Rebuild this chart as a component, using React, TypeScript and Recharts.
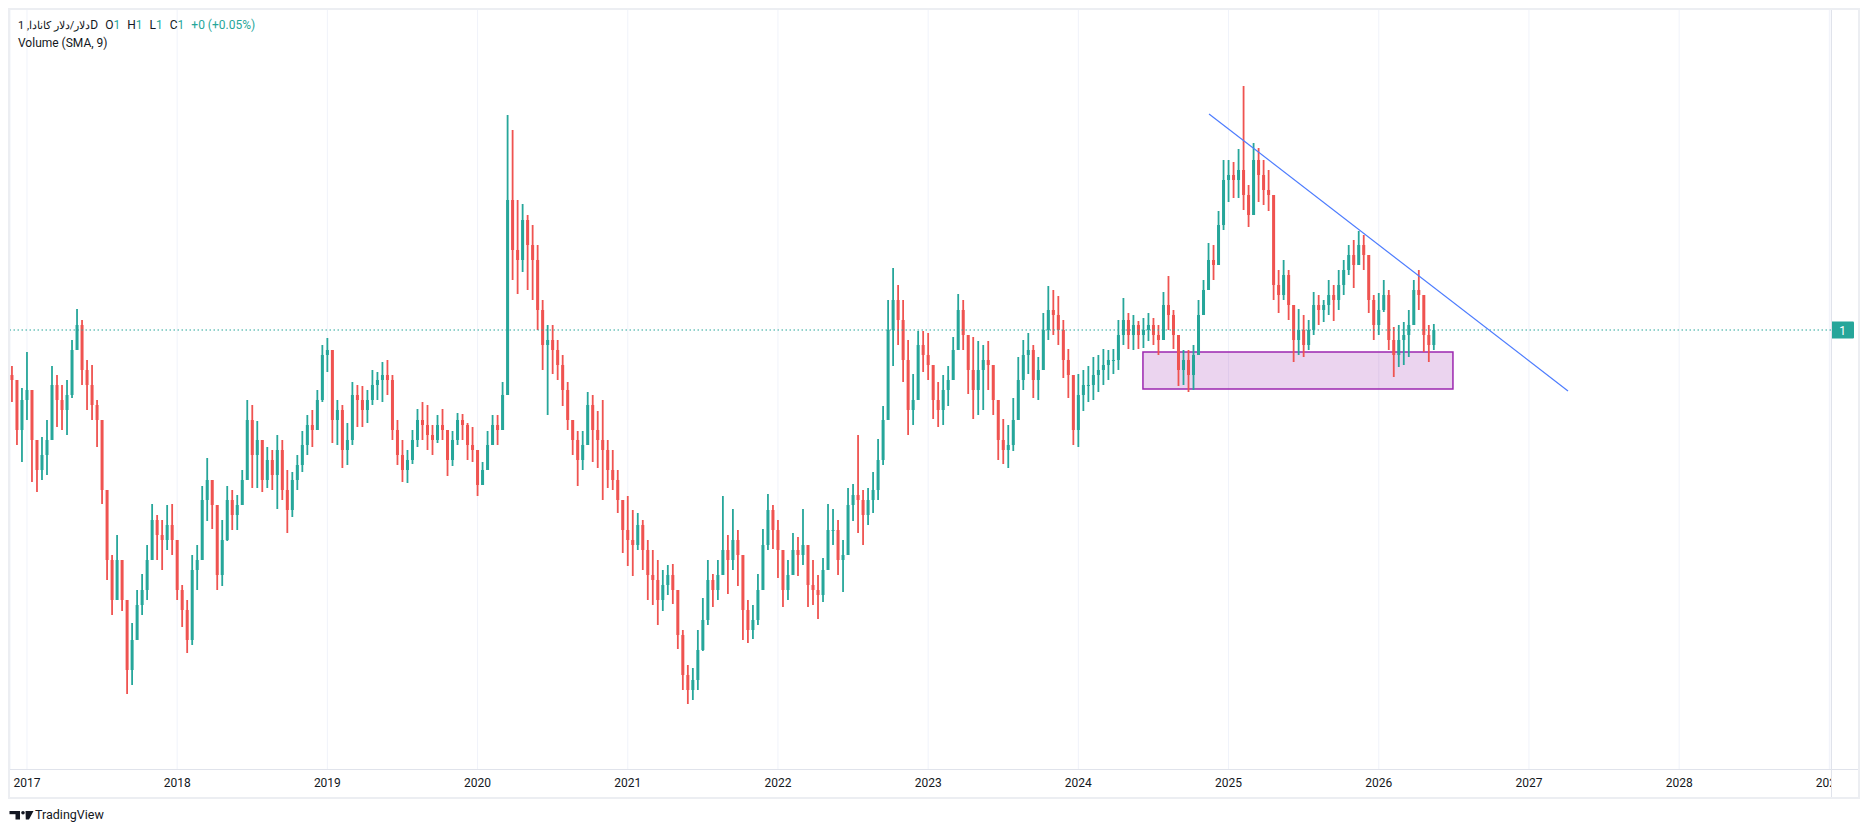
import React from 'react';
import { ComposedChart, Bar, XAxis, YAxis, CartesianGrid, ReferenceLine, ReferenceArea } from 'recharts';

const UP = '#26a69a';
const DOWN = '#ef5350';
const TEXT = '#131722';
const SEPARATOR = '#e0e3eb';

// one candle every ~12 days, the first one at the end of Nov 2016
const FIRST_BAR = 2016.9;
const BARS_PER_YEAR = 30;
const FIRST_OPEN = 0.955;

const HIGH = [
  0.964, 0.950, 0.942, 0.978, 0.930, 0.890, 0.893, 0.910, 0.964, 0.955,
  0.945, 0.950, 0.990, 1.021, 1.010, 0.970, 0.965, 0.930, 0.910, 0.830,
  0.775, 0.795, 0.768, 0.730, 0.707, 0.740, 0.756, 0.785, 0.826, 0.815,
  0.810, 0.825, 0.826, 0.780, 0.745, 0.730, 0.775, 0.785, 0.844, 0.872,
  0.850, 0.820, 0.810, 0.844, 0.840, 0.835, 0.860, 0.930, 0.925, 0.909,
  0.890, 0.883, 0.880, 0.895, 0.890, 0.860, 0.858, 0.875, 0.899, 0.915,
  0.920, 0.940, 0.985, 0.992, 0.980, 0.930, 0.925, 0.907, 0.948, 0.945,
  0.944, 0.940, 0.960, 0.958, 0.968, 0.970, 0.955, 0.910, 0.890, 0.880,
  0.900, 0.921, 0.928, 0.925, 0.905, 0.915, 0.921, 0.900, 0.899, 0.917,
  0.916, 0.907, 0.903, 0.880, 0.868, 0.899, 0.915, 0.915, 0.948, 1.215,
  1.200, 1.130, 1.126, 1.115, 1.105, 1.085, 1.030, 1.005, 1.005, 0.990,
  0.975, 0.948, 0.905, 0.899, 0.899, 0.938, 0.935, 0.919, 0.930, 0.890,
  0.880, 0.860, 0.825, 0.834, 0.820, 0.817, 0.810, 0.790, 0.780, 0.770,
  0.760, 0.765, 0.766, 0.740, 0.700, 0.665, 0.662, 0.700, 0.732, 0.770,
  0.756, 0.770, 0.834, 0.795, 0.821, 0.800, 0.770, 0.730, 0.725, 0.756,
  0.801, 0.836, 0.825, 0.810, 0.775, 0.770, 0.797, 0.793, 0.821, 0.785,
  0.770, 0.755, 0.772, 0.826, 0.821, 0.810, 0.790, 0.842, 0.846, 0.895,
  0.840, 0.842, 0.858, 0.891, 0.924, 1.030, 1.062, 1.045, 1.030, 0.990,
  0.956, 0.999, 0.999, 0.997, 0.960, 0.948, 0.955, 0.964, 0.993, 1.036,
  1.030, 0.990, 0.993, 0.989, 0.985, 0.989, 0.960, 0.930, 0.911, 0.905,
  0.932, 0.973, 0.990, 0.997, 0.985, 0.973, 1.017, 1.044, 1.040, 1.034,
  1.010, 0.981, 0.950, 0.956, 0.960, 0.964, 0.973, 0.975, 0.981, 0.980,
  0.981, 1.010, 1.032, 1.017, 1.015, 1.009, 1.012, 1.017, 1.012, 1.005,
  1.038, 1.054, 1.020, 0.995, 0.980, 0.980, 0.985, 1.030, 1.050, 1.087,
  1.085, 1.119, 1.170, 1.170, 1.168, 1.181, 1.244, 1.145, 1.187, 1.182,
  1.170, 1.160, 1.135, 1.060, 1.070, 1.060, 1.025, 1.021, 1.015, 1.010,
  1.038, 1.035, 1.030, 1.050, 1.045, 1.060, 1.070, 1.085, 1.090, 1.099,
  1.095, 1.065, 1.035, 1.037, 1.050, 1.040, 1.003, 1.005, 1.008, 1.020,
  1.050, 1.060, 1.035, 1.005, 1.006,
];

const LOW = [
  0.928, 0.885, 0.868, 0.910, 0.848, 0.838, 0.850, 0.855, 0.910, 0.903,
  0.900, 0.895, 0.932, 0.981, 0.945, 0.920, 0.910, 0.883, 0.826, 0.750,
  0.715, 0.740, 0.719, 0.636, 0.645, 0.690, 0.715, 0.730, 0.770, 0.770,
  0.760, 0.780, 0.775, 0.730, 0.703, 0.677, 0.685, 0.740, 0.770, 0.809,
  0.801, 0.740, 0.744, 0.789, 0.800, 0.800, 0.825, 0.855, 0.842, 0.842,
  0.838, 0.842, 0.840, 0.821, 0.830, 0.797, 0.813, 0.840, 0.858, 0.875,
  0.883, 0.900, 0.928, 0.958, 0.887, 0.885, 0.862, 0.865, 0.885, 0.903,
  0.903, 0.907, 0.925, 0.930, 0.928, 0.935, 0.890, 0.865, 0.848, 0.847,
  0.866, 0.883, 0.890, 0.880, 0.875, 0.887, 0.890, 0.854, 0.864, 0.885,
  0.890, 0.870, 0.868, 0.834, 0.845, 0.860, 0.885, 0.885, 0.900, 0.935,
  1.050, 1.036, 1.058, 1.040, 1.030, 1.000, 0.960, 0.915, 0.956, 0.950,
  0.924, 0.900, 0.875, 0.844, 0.860, 0.890, 0.868, 0.862, 0.830, 0.842,
  0.840, 0.817, 0.777, 0.764, 0.754, 0.780, 0.760, 0.730, 0.725, 0.705,
  0.719, 0.735, 0.726, 0.681, 0.640, 0.626, 0.630, 0.640, 0.679, 0.705,
  0.723, 0.730, 0.755, 0.736, 0.760, 0.744, 0.690, 0.687, 0.691, 0.705,
  0.750, 0.780, 0.781, 0.752, 0.723, 0.730, 0.755, 0.754, 0.765, 0.723,
  0.725, 0.711, 0.728, 0.760, 0.785, 0.755, 0.738, 0.775, 0.809, 0.797,
  0.785, 0.805, 0.817, 0.830, 0.865, 0.910, 0.964, 0.985, 0.948, 0.895,
  0.905, 0.940, 0.958, 0.950, 0.911, 0.903, 0.905, 0.924, 0.950, 0.985,
  0.980, 0.936, 0.911, 0.915, 0.920, 0.940, 0.915, 0.870, 0.866, 0.862,
  0.879, 0.920, 0.940, 0.956, 0.932, 0.930, 0.960, 0.990, 0.995, 0.985,
  0.952, 0.932, 0.885, 0.883, 0.919, 0.928, 0.930, 0.938, 0.945, 0.950,
  0.956, 0.960, 0.985, 0.981, 0.980, 0.981, 0.982, 0.989, 0.985, 0.975,
  0.995, 1.000, 0.981, 0.944, 0.945, 0.938, 0.940, 0.985, 1.020, 1.040,
  1.050, 1.065, 1.100, 1.128, 1.132, 1.132, 1.120, 1.103, 1.115, 1.128,
  1.125, 1.119, 1.030, 1.017, 1.030, 1.010, 0.968, 0.975, 0.973, 0.980,
  0.995, 1.005, 1.008, 1.015, 1.009, 1.020, 1.035, 1.055, 1.042, 1.065,
  1.060, 1.017, 0.990, 0.995, 1.018, 0.980, 0.953, 0.963, 0.965, 0.973,
  1.010, 1.020, 0.978, 0.968, 0.980,
];

const CLOSE = [
  0.950, 0.900, 0.930, 0.940, 0.890, 0.860, 0.875, 0.890, 0.945, 0.930,
  0.920, 0.935, 0.980, 1.005, 0.960, 0.945, 0.925, 0.910, 0.840, 0.770,
  0.730, 0.770, 0.730, 0.660, 0.690, 0.725, 0.740, 0.770, 0.810, 0.795,
  0.790, 0.805, 0.790, 0.740, 0.720, 0.690, 0.760, 0.770, 0.830, 0.850,
  0.825, 0.755, 0.790, 0.830, 0.815, 0.825, 0.850, 0.910, 0.875, 0.890,
  0.850, 0.870, 0.855, 0.880, 0.840, 0.820, 0.850, 0.865, 0.885, 0.905,
  0.900, 0.930, 0.975, 0.980, 0.910, 0.920, 0.880, 0.890, 0.935, 0.930,
  0.920, 0.930, 0.945, 0.950, 0.955, 0.950, 0.900, 0.875, 0.860, 0.870,
  0.890, 0.910, 0.905, 0.895, 0.890, 0.905, 0.900, 0.870, 0.890, 0.910,
  0.905, 0.885, 0.880, 0.845, 0.860, 0.885, 0.905, 0.900, 0.935, 1.130,
  1.080, 1.070, 1.110, 1.085, 1.070, 1.020, 0.985, 0.990, 0.980, 0.965,
  0.940, 0.910, 0.890, 0.870, 0.885, 0.925, 0.900, 0.890, 0.880, 0.860,
  0.850, 0.830, 0.800, 0.790, 0.785, 0.805, 0.780, 0.755, 0.750, 0.730,
  0.745, 0.755, 0.740, 0.695, 0.655, 0.640, 0.650, 0.680, 0.710, 0.750,
  0.740, 0.755, 0.780, 0.770, 0.790, 0.775, 0.720, 0.700, 0.710, 0.740,
  0.785, 0.820, 0.800, 0.780, 0.740, 0.755, 0.780, 0.775, 0.785, 0.745,
  0.740, 0.735, 0.760, 0.800, 0.800, 0.770, 0.775, 0.825, 0.835, 0.830,
  0.815, 0.830, 0.840, 0.870, 0.910, 1.000, 1.030, 1.010, 0.970, 0.920,
  0.930, 0.985, 0.975, 0.965, 0.930, 0.920, 0.940, 0.950, 0.980, 1.020,
  0.995, 0.960, 0.940, 0.960, 0.970, 0.965, 0.930, 0.890, 0.880, 0.885,
  0.910, 0.950, 0.975, 0.980, 0.950, 0.960, 1.000, 1.020, 1.015, 1.000,
  0.970, 0.955, 0.900, 0.935, 0.945, 0.945, 0.955, 0.960, 0.965, 0.970,
  0.970, 0.995, 1.010, 0.995, 1.005, 0.995, 1.000, 1.005, 0.995, 0.990,
  1.025, 1.015, 0.995, 0.960, 0.970, 0.955, 0.975, 1.015, 1.040, 1.070,
  1.065, 1.105, 1.150, 1.155, 1.150, 1.160, 1.135, 1.115, 1.170, 1.155,
  1.140, 1.135, 1.045, 1.035, 1.055, 1.025, 0.990, 1.000, 0.985, 1.000,
  1.025, 1.020, 1.025, 1.035, 1.030, 1.045, 1.060, 1.075, 1.065, 1.085,
  1.075, 1.030, 1.005, 1.020, 1.035, 0.990, 0.975, 0.990, 0.995, 1.005,
  1.040, 1.035, 0.995, 0.985, 1.000,
];

const YEARS = [2017, 2018, 2019, 2020, 2021, 2022, 2023, 2024, 2025, 2026, 2027, 2028, 2029];
const LAST_PRICE = 1;

// drawings on the chart: support box and the falling trend line
const BOX = { from: 2024.43, to: 2026.494, top: 0.978, bottom: 0.941 };
const TREND = [
  { x: 2024.87, y: 1.216 },
  { x: 2027.26, y: 0.939 },
];

const X_DOMAIN = [2016.887, 2029.011];
const Y_DOMAIN = [0.561, 1.32];

const candles = CLOSE.map((cl, i) => {
  const op = i === 0 ? FIRST_OPEN : CLOSE[i - 1];
  return {
    t: FIRST_BAR + i / BARS_PER_YEAR,
    op,
    cl,
    hi: Math.max(HIGH[i], op, cl),
    lo: Math.min(LOW[i], op, cl),
  };
});

const Candle = (props: any) => {
  const { x, y, width, height, payload } = props;
  if (!payload || height == null) return null;
  const top = Math.min(y, y + height);
  const h = Math.abs(height);
  const span = payload.hi - payload.lo || 1;
  const at = (v: number) => top + ((payload.hi - v) / span) * h;
  const color = payload.cl >= payload.op ? UP : DOWN;
  const mid = x + width / 2;
  const b1 = at(Math.max(payload.op, payload.cl));
  const b2 = at(Math.min(payload.op, payload.cl));
  return (
    <g>
      <line x1={mid} x2={mid} y1={top} y2={top + h} stroke={color} strokeWidth={1.8} />
      <rect x={x} y={b1} width={width} height={Math.max(1, b2 - b1)} fill={color} />
    </g>
  );
};

const YearTick = ({ x, y, payload }: any) => {
  const id = `clip-${payload.value}`;
  return (
    <g>
      <defs>
        <clipPath id={id}>
          <rect x={10} y={y} width={1821} height={28} />
        </clipPath>
      </defs>
      <text x={x} y={y + 18} textAnchor="middle" fill={TEXT} fontSize={12} fontFamily="Roboto" clipPath={`url(#${id})`}>
        {payload.value}
      </text>
    </g>
  );
};

const PriceTag = ({ x, y, payload }: any) => (
  <g>
    <rect x={x} y={y - 8.5} width={23} height={17} fill={UP} rx={1} />
    <text x={x + 11.5} y={y + 4.5} textAnchor="middle" fill="#fff" fontSize={12} fontFamily="Roboto">
      {payload.value}
    </text>
  </g>
);

const Val = ({ children }: any) => <span style={{ color: UP }}>{children}</span>;

const App = () => {
  return (
    <div style={{ position: 'absolute', left: 0, top: 0, width: 1869, height: 832, background: '#fff', fontFamily: 'Roboto, sans-serif' }}>
      <ComposedChart width={1869} height={832} data={candles} margin={{ top: 10, right: 10, bottom: 35, left: 10 }}>
        <CartesianGrid horizontal={false} stroke="#f0f3fa" />
        <XAxis
          dataKey="t"
          type="number"
          domain={X_DOMAIN}
          ticks={YEARS}
          height={28}
          axisLine={false}
          tickLine={false}
          tickSize={0}
          tickMargin={0}
          tick={<YearTick />}
          allowDataOverflow
        />
        <YAxis
          orientation="right"
          type="number"
          domain={Y_DOMAIN}
          ticks={[LAST_PRICE]}
          width={28}
          axisLine={false}
          tickLine={false}
          tickSize={0}
          tickMargin={0}
          tick={<PriceTag />}
          allowDataOverflow
        />
        <ReferenceArea
          x1={BOX.from}
          x2={BOX.to}
          y1={BOX.bottom}
          y2={BOX.top}
          fill="#9c27b0"
          fillOpacity={0.2}
          stroke="#9c27b0"
          strokeWidth={1.5}
        />
        <ReferenceLine y={LAST_PRICE} stroke={UP} strokeDasharray="1.5 2.5" strokeWidth={1} />
        <Bar
          dataKey={(d: any) => [d.lo, d.hi]}
          barSize={3}
          shape={(p: any) => <Candle {...p} />}
          isAnimationActive={false}
        />
        <ReferenceLine segment={TREND} stroke="#4d7cfe" strokeWidth={1.2} />
      </ComposedChart>

      <svg width={1869} height={832} style={{ position: 'absolute', left: 0, top: 0, pointerEvents: 'none' }}>
        <rect x={9} y={9} width={1850} height={789} fill="none" stroke="#eceef2" strokeWidth={2} />
        <line x1={1831.5} x2={1831.5} y1={10} y2={797} stroke={SEPARATOR} />
        <line x1={10} x2={1858} y1={769.5} y2={769.5} stroke={SEPARATOR} />
        <g fill={TEXT}>
          <rect x={9.5} y={811} width={10.5} height={3.2} />
          <rect x={15.5} y={811} width={4.5} height={8.5} />
          <circle cx={23} cy={812.8} r={1.8} />
          <polygon points="25.5,811 33.5,811 29,819.5 25.8,819.5" />
        </g>
        <text x={35} y={818.5} fontSize={12.5} fontFamily="Roboto" fill={TEXT}>TradingView</text>
      </svg>

      <div style={{ position: 'absolute', left: 18, top: 17, fontSize: 12, lineHeight: '16px', color: TEXT, whiteSpace: 'pre' }}>
        <span style={{ fontSize: 11 }}>دلار/دلار کانادا, 1</span>
        <span>D</span>
        <span style={{ marginLeft: 7 }}>O</span><Val>1</Val>
        <span style={{ marginLeft: 7 }}>H</span><Val>1</Val>
        <span style={{ marginLeft: 7 }}>L</span><Val>1</Val>
        <span style={{ marginLeft: 7 }}>C</span><Val>1</Val>
        <span style={{ marginLeft: 7, color: UP }}>+0 (+0.05%)</span>
      </div>
      <div style={{ position: 'absolute', left: 18, top: 35, fontSize: 12, lineHeight: '16px', color: TEXT }}>
        Volume (SMA, 9)
      </div>
    </div>
  );
};

export default App;
